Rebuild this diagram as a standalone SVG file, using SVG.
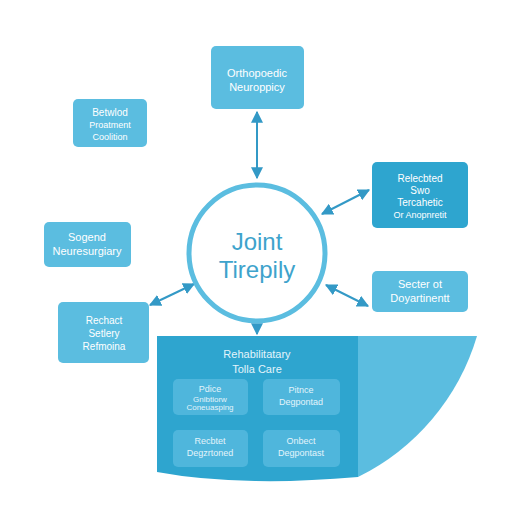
<svg xmlns="http://www.w3.org/2000/svg" width="512" height="512" viewBox="0 0 512 512">
<defs>
<style>
.box{fill:#5bbde0;}
.dbox{fill:#2ea5cf;}
.ibox{fill:#4fb6dc;}
.t{font-family:"Liberation Sans",Arial,sans-serif;fill:#ffffff;text-anchor:middle;}
.lt{font-family:"Liberation Sans",Arial,sans-serif;fill:#e3f4fb;text-anchor:middle;}
.con{stroke:#3399c6;stroke-width:2;fill:none;marker-end:url(#ah);marker-start:url(#ahs);}
</style>
<marker id="ah" viewBox="0 0 10 10" refX="9" refY="5" markerWidth="6" markerHeight="6" orient="auto"><path d="M0,0 L10,5 L0,10 z" fill="#3399c6"/></marker>
<marker id="ahs" viewBox="0 0 10 10" refX="1" refY="5" markerWidth="6" markerHeight="6" orient="auto"><path d="M10,0 L0,5 L10,10 z" fill="#3399c6"/></marker>
</defs>
<rect width="512" height="512" fill="#ffffff"/>

<g id="panel">
<path d="M358,336 L477,336 A230 230 0 0 1 358,477 Z" fill="#5bbde0"/>
<path d="M157,336 L358,336 L358,477 Q300,482 255,481 Q200,480 157,472 Z" fill="#2ea5cf"/>
<text class="lt" x="257" y="358" font-size="11">Rehabilitatary</text>
<text class="lt" x="257" y="373" font-size="11">Tolla Care</text>
</g>

<g id="inner-a"><rect class="ibox" x="173" y="379" width="75" height="36" rx="5"/>
<text class="lt" x="210" y="392" font-size="9">Pdice</text>
<text class="lt" x="210" y="402" font-size="8">Gnibtiorw</text>
<text class="lt" x="210" y="410" font-size="8">Coneuasping</text></g>
<g id="inner-b"><rect class="ibox" x="263" y="379" width="77" height="36" rx="5"/>
<text class="lt" x="301" y="393" font-size="9">Pitnce</text>
<text class="lt" x="301" y="405" font-size="9">Degpontad</text></g>
<g id="inner-c"><rect class="ibox" x="173" y="430" width="75" height="37" rx="5"/>
<text class="lt" x="210" y="444" font-size="9">Recbtet</text>
<text class="lt" x="210" y="456" font-size="9">Degzrtoned</text></g>
<g id="inner-d"><rect class="ibox" x="263" y="430" width="77" height="37" rx="5"/>
<text class="lt" x="301" y="444" font-size="9">Onbect</text>
<text class="lt" x="301" y="456" font-size="9">Degpontast</text></g>

<g id="connectors">
<line class="con" x1="257" y1="112" x2="257" y2="178"/>
<line class="con" x1="322" y1="214" x2="369" y2="190"/>
<line class="con" x1="326" y1="285" x2="368" y2="306"/>
<line class="con" x1="194" y1="284" x2="150" y2="305"/>
<line x1="257" y1="324" x2="257" y2="334" stroke="#3399c6" stroke-width="2" marker-end="url(#ah)"/>
</g>

<g id="center">
<circle cx="257" cy="253" r="68" fill="#ffffff" stroke="#5bbde0" stroke-width="5"/>
<text x="257" y="250" font-family="'Liberation Sans',Arial,sans-serif" font-size="24" fill="#3ea3cc" text-anchor="middle">Joint</text>
<text x="257" y="278" font-family="'Liberation Sans',Arial,sans-serif" font-size="24" fill="#3ea3cc" text-anchor="middle">Tirepily</text>
</g>

<g id="top"><rect class="box" x="211" y="46" width="93" height="63" rx="5"/>
<text class="t" x="257" y="77" font-size="11">Orthopoedic</text>
<text class="t" x="257" y="91" font-size="11">Neuroppicy</text></g>

<g id="left1"><rect class="box" x="73" y="99" width="74" height="48" rx="5"/>
<text class="t" x="110" y="116" font-size="10">Betwlod</text>
<text class="t" x="110" y="128" font-size="9">Proatment</text>
<text class="t" x="110" y="140" font-size="9">Coolition</text></g>

<g id="right1"><rect class="dbox" x="372" y="162" width="96" height="66" rx="5"/>
<text class="t" x="420" y="182" font-size="10">Relecbted</text>
<text class="t" x="420" y="194" font-size="10">Swo</text>
<text class="t" x="420" y="206" font-size="10">Tercahetic</text>
<text class="t" x="420" y="218" font-size="9">Or Anopnretit</text></g>

<g id="left2"><rect class="box" x="44" y="222" width="87" height="45" rx="5"/>
<text class="t" x="87" y="241" font-size="11">Sogend</text>
<text class="t" x="87" y="255" font-size="11">Neuresurgiary</text></g>

<g id="right2"><rect class="box" x="372" y="271" width="96" height="41" rx="5"/>
<text class="t" x="420" y="288" font-size="11">Secter ot</text>
<text class="t" x="420" y="302" font-size="11">Doyartinentt</text></g>

<g id="left3"><rect class="box" x="58" y="302" width="91" height="61" rx="5"/>
<text class="t" x="104" y="324" font-size="10">Rechact</text>
<text class="t" x="104" y="337" font-size="10">Setlery</text>
<text class="t" x="104" y="350" font-size="10">Refmoina</text></g>
</svg>
